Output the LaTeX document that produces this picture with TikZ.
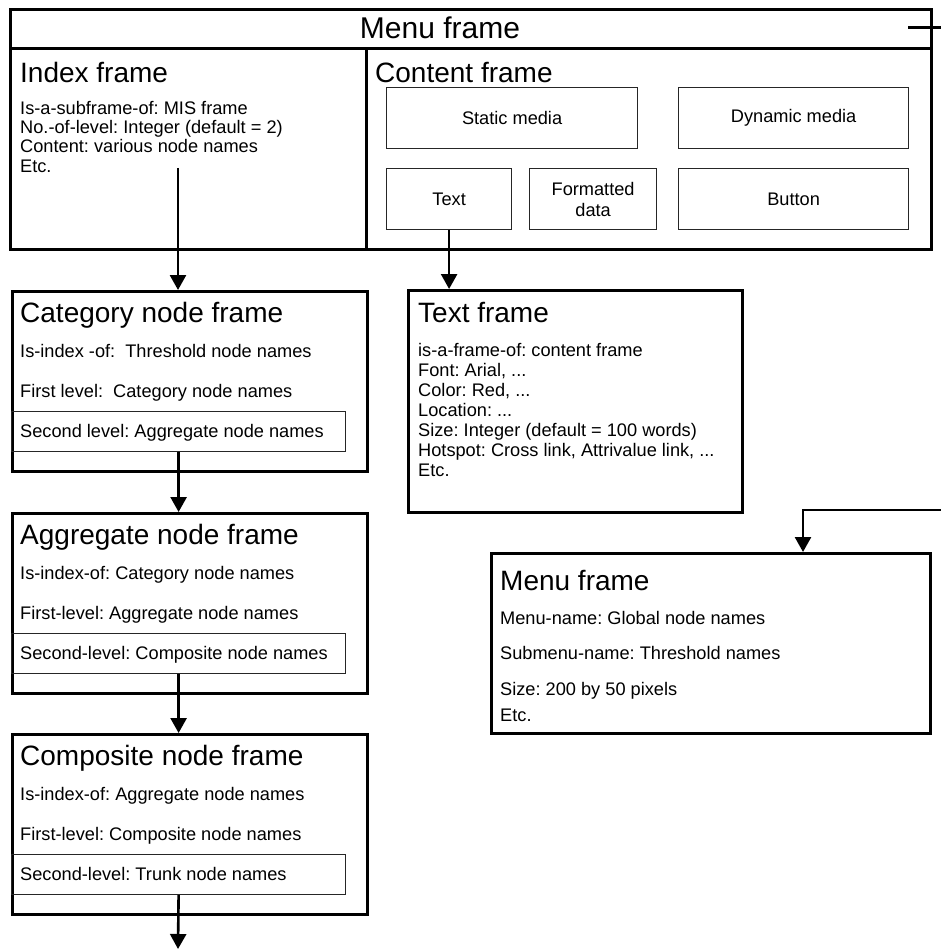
\documentclass[tikz,border=0pt]{standalone}
\usepackage{fontspec}
\setmainfont{Liberation Sans}
\usetikzlibrary{arrows.meta}

\tikzset{
  bigframe/.style={draw, line width=2.6pt, inner sep=0pt, anchor=north west},
  subbox/.style={draw=black!85, line width=1.2pt, inner sep=0pt, anchor=north west,
                 align=center, font=\fontsize{18.2}{21}\selectfont},
  ftitle/.style={anchor=base west, inner sep=0pt, font=\fontsize{28}{30}\selectfont},
  prop/.style={anchor=base west, inner sep=0pt, font=\fontsize{18.2}{20}\selectfont},
  link/.style={line width=2.6pt, -{Triangle[width=16pt,length=15pt]}}
}

\begin{document}
\frenchspacing
\begin{tikzpicture}[x=1pt, y=-1pt]
\useasboundingbox (0,0) rectangle (941,952);

% ---------- top frame: menu bar, index frame, content frame ----------
\node[bigframe, minimum width=921, minimum height=39] (menubar) at (9,8) {};
\node[bigframe, minimum width=356, minimum height=201] (index) at (9,47) {};
\node[bigframe, minimum width=565, minimum height=201] (content) at (365,47) {};

\node[anchor=base, inner sep=0pt, font=\fontsize{30}{32}\selectfont] (menutitle) at (440,39) {Menu frame};

\node[ftitle] (indextitle) at (20,83) {Index frame};
\node[prop] (ix1) at (20,115) {Is-a-subframe-of: MIS frame};
\node[prop] (ix2) at (20,134) {No.-of-level: Integer (default = 2)};
\node[prop] (ix3) at (20,153) {Content: various node names};
\node[prop] (ix4) at (20,172) {Etc.};

\node[ftitle] (contenttitle) at (375,83) {Content frame};
\node[subbox, minimum width=251, minimum height=61] (static) at (386,87) {Static media};
\node[subbox, minimum width=230, minimum height=61] (dynamic) at (678,87) {Dynamic media};
\node[subbox, minimum width=125, minimum height=61] (tbox) at (386,168) {Text};
\node[subbox, minimum width=127, minimum height=61] (fdata) at (529,168) {Formatted\\data};
\node[subbox, minimum width=230, minimum height=61] (button) at (678,168) {Button};

% ---------- left column: index hierarchy ----------
\node[bigframe, minimum width=355, minimum height=180] (cat) at (11,290) {};
\node[ftitle] (cattitle) at (20,322) {Category node frame};
\node[prop] (cat1) at (20,357) {Is-index -of:\ \ Threshold node names};
\node[prop] (cat2) at (20,397) {First level:\ \ Category node names};
\node[subbox, minimum width=334, minimum height=40] (catsub) at (11,411) {};
\node[prop] (cat3) at (20,437) {Second level: Aggregate node names};

\node[bigframe, minimum width=355, minimum height=180] (agg) at (11,512) {};
\node[ftitle] (aggtitle) at (20,544) {Aggregate node frame};
\node[prop] (agg1) at (20,579) {Is-index-of: Category node names};
\node[prop] (agg2) at (20,619) {First-level: Aggregate node names};
\node[subbox, minimum width=334, minimum height=40] (aggsub) at (11,633) {};
\node[prop] (agg3) at (20,659) {Second-level: Composite node names};

\node[bigframe, minimum width=355, minimum height=180] (comp) at (11,733) {};
\node[ftitle] (comptitle) at (20,765) {Composite node frame};
\node[prop] (comp1) at (20,800) {Is-index-of: Aggregate node names};
\node[prop] (comp2) at (20,840) {First-level: Composite node names};
\node[subbox, minimum width=334, minimum height=40] (compsub) at (11,854) {};
\node[prop] (comp3) at (20,880) {Second-level: Trunk node names};

% ---------- text frame ----------
\node[bigframe, minimum width=334, minimum height=222] (tframe) at (407,289) {};
\node[ftitle] (ttitle) at (418,322) {Text frame};
\node[prop] (t1) at (418,356) {is-a-frame-of: content frame};
\node[prop] (t2) at (418,376) {Font: Arial, ...};
\node[prop] (t3) at (418,396) {Color: Red, ...};
\node[prop] (t4) at (418,416) {Location: ...};
\node[prop] (t5) at (418,436) {Size: Integer (default = 100 words)};
\node[prop] (t6) at (418,456) {Hotspot: Cross link, Attrivalue link, ...};
\node[prop] (t7) at (418,476) {Etc.};

% ---------- lower menu frame ----------
\node[bigframe, minimum width=439, minimum height=180] (lowmenu) at (490,552) {};
\node[ftitle] (lmtitle) at (500,590) {Menu frame};
\node[prop] (lm1) at (500,624) {Menu-name: Global node names};
\node[prop] (lm2) at (500,659) {Submenu-name: Threshold names};
\node[prop] (lm3) at (500,695) {Size: 200 by 50 pixels};
\node[prop] (lm4) at (500,721) {Etc.};

% ---------- connectors ----------
\coordinate (ixstart) at (178,168);
\draw[link] (ixstart) -- (ixstart |- cat.north);
\draw[link] (tbox.south) -- (tbox.south |- tframe.north);
\draw[link] (catsub.south) -- (catsub.south |- agg.north);
\draw[link] (aggsub.south) -- (aggsub.south |- comp.north);
\coordinate (trunkend) at (178,949);
\draw[link] (compsub.south) -- (trunkend);

\coordinate (stub) at (908,27.5);
\coordinate (r1) at (955,27.5);
\coordinate (r2) at (955,510);
\coordinate (r3) at (803,510);
\draw[link] (stub) -- (r1) -- (r2) -- (r3) -- (r3 |- lowmenu.north);
\end{tikzpicture}
\end{document}
